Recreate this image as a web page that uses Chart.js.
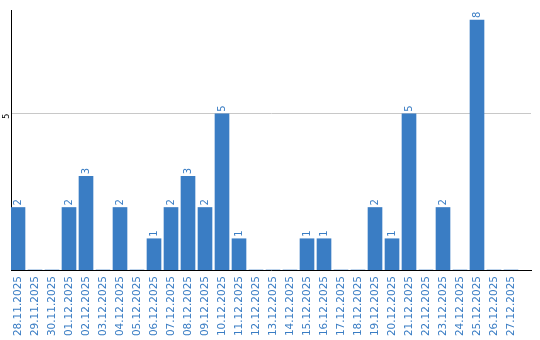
<!DOCTYPE html>
<html>
<head>
<meta charset="utf-8">
<script src="https://cdn.jsdelivr.net/npm/chart.js@4/dist/chart.umd.min.js"></script>
<style>
html,body{margin:0;padding:0;background:#fff;}
#c{display:block;}
</style>
</head>
<body>
<canvas id="c" width="540" height="340"></canvas>
<script>
const categories = ['28.11.2025','29.11.2025','30.11.2025','01.12.2025','02.12.2025','03.12.2025','04.12.2025','05.12.2025','06.12.2025','07.12.2025','08.12.2025','09.12.2025','10.12.2025','11.12.2025','12.12.2025','13.12.2025','14.12.2025','15.12.2025','16.12.2025','17.12.2025','18.12.2025','19.12.2025','20.12.2025','21.12.2025','22.12.2025','23.12.2025','24.12.2025','25.12.2025','26.12.2025','27.12.2025'];
const values = [2,0,0,2,3,0,2,0,1,2,3,2,5,1,0,0,0,1,1,0,0,2,1,5,0,2,0,8,0,0];
const yTickValues = [5];

const BLUE = '#3a7dc4';
const FONT = 'DejaVu Sans';

const valueLabels = {
  id: 'valueLabels',
  afterDatasetsDraw(chart) {
    const ctx = chart.ctx;
    const meta = chart.getDatasetMeta(0);
    ctx.save();
    ctx.fillStyle = BLUE;
    ctx.font = '10px "' + FONT + '"';
    ctx.textAlign = 'left';
    ctx.textBaseline = 'middle';
    meta.data.forEach((bar, i) => {
      const v = values[i];
      if (!v) return;
      ctx.save();
      ctx.translate(bar.x + 0.5, bar.y - 2);
      ctx.rotate(-Math.PI / 2);
      ctx.fillText(String(v), 0, 0);
      ctx.restore();
    });
    ctx.restore();
  }
};

new Chart(document.getElementById('c'), {
  type: 'bar',
  data: {
    datasets: [{
      data: values.map((v, i) => ({x: i, y: v})),
      backgroundColor: BLUE,
      borderWidth: 0,
      barThickness: 14
    }]
  },
  options: {
    responsive: false,
    animation: false,
    events: [],
    layout: {padding: {top: 10, right: 9, left: 0, bottom: 0}},
    plugins: {legend: {display: false}, tooltip: {enabled: false}, title: {display: false}},
    scales: {
      x: {
        type: 'linear',
        offset: false,
        min: -7 / 17,
        max: 513 / 17,
        grid: {color: 'rgba(0,0,0,0)', drawTicks: false, offset: false},
        border: {display: true, color: '#000', width: 1},
        afterFit(s) { s.height = 70; s.paddingLeft = 0; s.paddingRight = 0; },
        ticks: {
          stepSize: 1,
          includeBounds: false,
          autoSkip: false,
          minRotation: 90,
          maxRotation: 90,
          padding: 6,
          color: BLUE,
          font: {family: FONT, size: 10.5},
          callback: (v) => {
            const i = Math.round(v);
            return (Math.abs(v - i) < 1e-6 && categories[i]) ? categories[i] : '';
          }
        }
      },
      y: {
        min: 0,
        max: 8.32,
        grid: {color: '#c8c8c8', drawTicks: false},
        border: {display: true, color: '#000', width: 1},
        afterFit(s) { s.width = 11; s.paddingTop = 0; s.paddingBottom = 0; },
        afterBuildTicks(s) { s.ticks = yTickValues.map(v => ({value: v})); },
        ticks: {
          minRotation: 90,
          maxRotation: 90,
          padding: 4,
          color: '#000',
          font: {family: FONT, size: 8}
        }
      }
    }
  },
  plugins: [valueLabels]
});
</script>
</body>
</html>
